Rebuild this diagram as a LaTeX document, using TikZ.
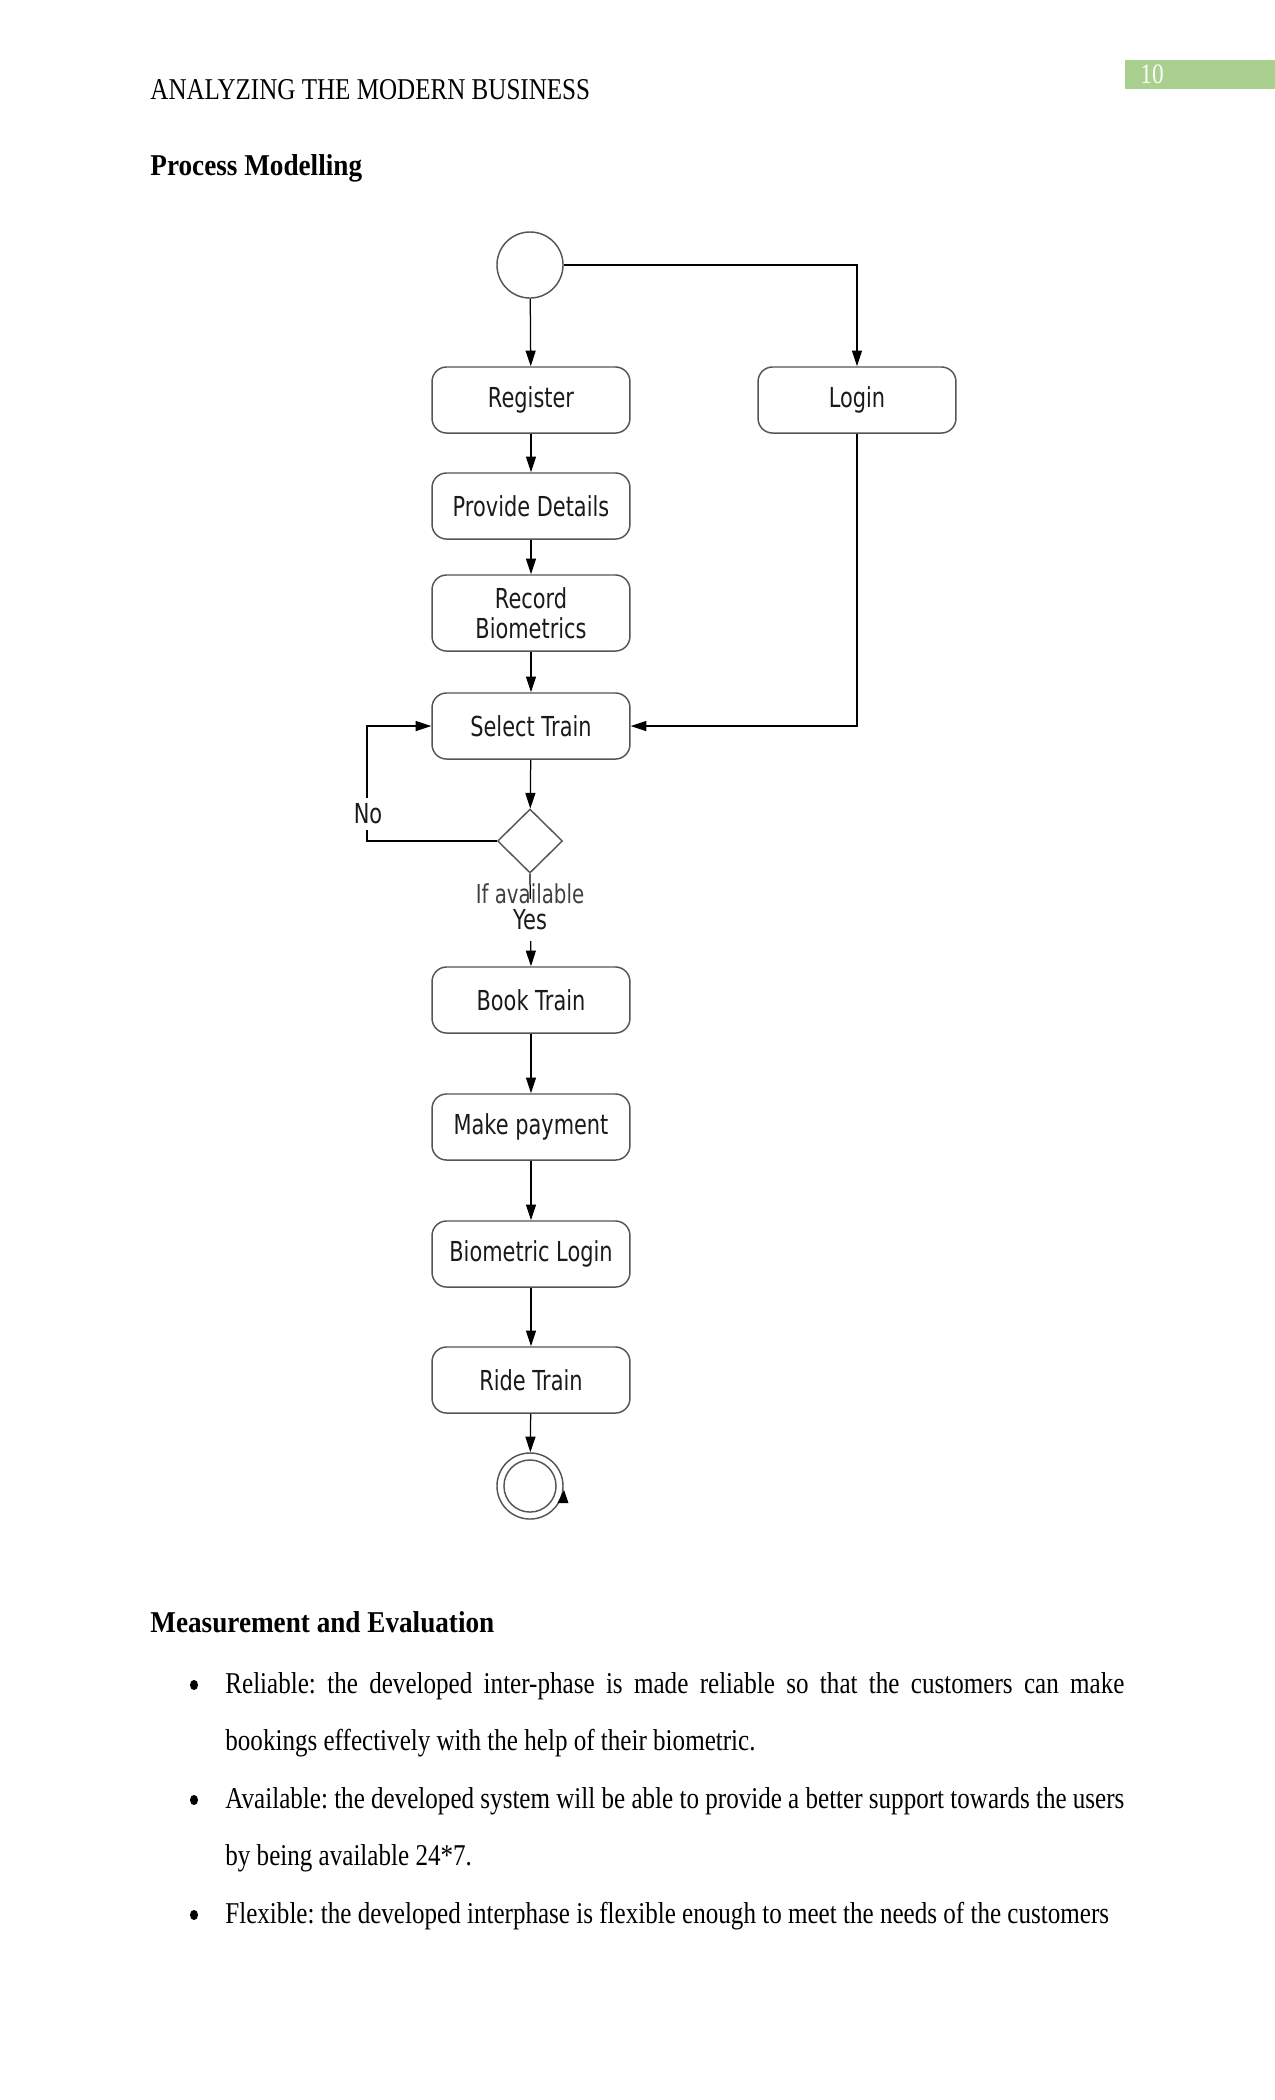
\documentclass[tikz,border=0pt]{standalone}
\usepackage{fontspec}
\setmainfont{Liberation Serif}
\newfontfamily\bodyfont[FakeStretch=0.83]{Liberation Serif}
\newfontfamily\headfont[FakeStretch=0.9]{Liberation Serif}
\newfontfamily\diafont[FakeStretch=0.76]{DejaVu Sans}
\usetikzlibrary{arrows.meta,shapes.geometric}
\definecolor{pggreen}{HTML}{A9D08E}
\definecolor{boxline}{HTML}{555555}
\definecolor{diatext}{HTML}{1A1A1A}
\begin{document}
\begin{tikzpicture}[x=0.48pt,y=-0.48pt,
  body/.style={font={\bodyfont\frenchspacing\fontsize{14.5}{17}\selectfont}, inner sep=0pt, anchor=base west, text=black},
  bodybold/.style={body, font={\headfont\bfseries\frenchspacing\fontsize{14.5}{17}\selectfont}},
  act/.style={draw=boxline, line width=0.7pt, rounded corners=7pt, minimum width=95pt,
    minimum height=31.7pt, inner sep=0pt, align=center, text=diatext,
    font={\diafont\fontsize{13.2}{14.4}\selectfont}},
  lbl/.style={inner sep=1pt, text=diatext, font={\diafont\fontsize{13.2}{14.4}\selectfont}},
  arr/.style={-{Triangle[length=7.5pt,width=4.8pt]}, line width=0.6pt, draw=black},
  pseudo/.style={circle, draw=boxline, line width=0.7pt, minimum size=31.7pt, inner sep=0pt},
  bulletdot/.style={ellipse, fill=black, minimum width=3.9pt, minimum height=4.9pt, inner sep=0pt}
]
\useasboundingbox (0,0) rectangle (1275,2100);
\fill[white] (0,0) rectangle (1275,2100);

% header
\fill[pggreen] (1125,60) rectangle (1275,89);
\node[body, text=white!95!pggreen, font={\bodyfont\fontsize{13.5}{15}\selectfont}] (pnum) at (1140,83) {10};
\node[body] (hdr) at (150,99) {ANALYZING THE MODERN BUSINESS};
\node[bodybold] (h1) at (150,175) {Process Modelling};

% diagram nodes
\node[pseudo] (start) at (530,265) {};
\node[act] (register) at (531,400) {Register};
\node[act] (login) at (857,400) {Login};
\node[act] (provide) at (531,506) {Provide Details};
\node[act, minimum height=36.5pt] (record) at (531,613) {Record\\Biometrics};
\node[act] (select) at (531,726) {Select Train};
\node[diamond, draw=boxline, line width=0.7pt, minimum width=31.2pt, minimum height=30.7pt, inner sep=0pt] (dec) at (530,841) {};
\node[act] (book) at (531,1000) {Book Train};
\node[act] (pay) at (531,1127) {Make payment};
\node[act] (biolog) at (531,1254) {Biometric Login};
\node[act] (ride) at (531,1380) {Ride Train};
\node[pseudo] (end) at (530,1486) {};
\draw[boxline, line width=0.7pt] (end.center) circle[radius=12.5pt];
\fill[black] (564,1490) -- (568.5,1503) -- (557.5,1503) -- cycle;

\coordinate (nocorner) at (367,841);

% connectors
\draw[arr] (start) -- (register);
\draw[arr] (start.east) -| (login.north);
\draw[arr] (register) -- (provide);
\draw[arr] (provide) -- (record);
\draw[arr] (record) -- (select);
\draw[arr] (login.south) |- (select.east);
\draw[arr] (select) -- (dec);
\draw[arr] (dec.west) -- (nocorner) |- (select.west);
\draw[arr] (dec.south) -- (book.north);
\draw[arr] (book) -- (pay);
\draw[arr] (pay) -- (biolog);
\draw[arr] (biolog) -- (ride);
\draw[arr] (ride) -- (end);

% labels
\node[lbl, fill=white, inner ysep=3pt] (no) at (368,814) {No};
\node[lbl, fill=white, inner ysep=5pt, inner xsep=3pt] (yes) at (530,920) {Yes};
\node[lbl, text=black!75, font={\diafont\fontsize{12.5}{14}\selectfont}] (ifav) at (530,894) {If available};

% lower text
\node[bodybold] (h2) at (150,1632) {Measurement and Evaluation};
\node[bulletdot] (b1) at (194,1685) {};
\node[body] (l1) at (225,1693) {\makebox[431.5pt][s]{Reliable: the developed inter-phase is made reliable so that the customers can make}};
\node[body] (l2) at (225,1750) {bookings effectively with the help of their biometric.};
\node[bulletdot] (b2) at (194,1800) {};
\node[body] (l3) at (225,1808) {\makebox[431.5pt][s]{Available: the developed system will be able to provide a better support towards the users}};
\node[body] (l4) at (225,1865) {by being available 24*7.};
\node[bulletdot] (b3) at (194,1915) {};
\node[body] (l5) at (225,1923) {Flexible: the developed interphase is flexible enough to meet the needs of the customers};
\end{tikzpicture}
\end{document}
